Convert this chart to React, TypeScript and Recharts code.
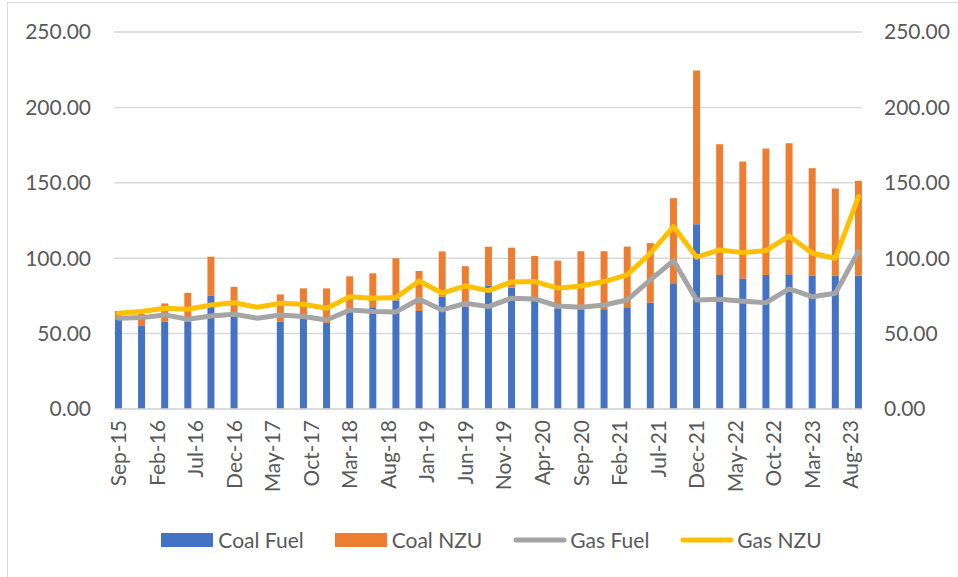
import React from 'react';
import { ComposedChart, Bar, Line, XAxis, YAxis, CartesianGrid, Legend } from 'recharts';

const quarters = [
  'Sep-15', 'Dec-15', 'Mar-16', 'Jun-16', 'Sep-16', 'Dec-16', 'Mar-17', 'Jun-17', 'Sep-17', 'Dec-17', 'Mar-18',
  'Jun-18', 'Sep-18', 'Dec-18', 'Mar-19', 'Jun-19', 'Sep-19', 'Dec-19', 'Mar-20', 'Jun-20', 'Sep-20', 'Dec-20',
  'Mar-21', 'Jun-21', 'Sep-21', 'Dec-21', 'Mar-22', 'Jun-22', 'Sep-22', 'Dec-22', 'Mar-23', 'Jun-23', 'Sep-23',
];
const coalFuel = [
  59, 55, 58, 58, 75, 61, null, 58, 60, 57, 64.5,
  67.5, 72, 65, 74.5, 68, 81.6, 80.5, 72.3, 66.8, 66.2, 66.2,
  67.5, 70.5, 83.4, 122.5, 88.9, 86.5, 88.9, 89.4, 88.5, 88.5, 88.5,
];
const coalNZU = [
  6, 8, 12, 19, 26, 20, null, 18, 20, 23, 23.5,
  22.5, 28, 26.5, 30, 26.7, 26, 26.5, 29.2, 31.6, 38.4, 38.4,
  40.2, 39.5, 56.4, 102, 86.7, 77.6, 83.8, 86.9, 71.2, 57.7, 62.8,
];
const gasFuel = [
  60.2, 60.6, 62.4, 59.5, 61.7, 62.8, 60.2, 62.4, 61.3, 59, 65.7,
  64.6, 64.4, 72.8, 65.7, 70.1, 67.9, 73.5, 73, 68.3, 67.5, 69,
  72.3, 85.6, 98.4, 72.3, 72.8, 71.5, 70.5, 79.6, 74.5, 76.8, 104.4,
];
const gasNZU = [
  63.5, 64.6, 66.8, 66.2, 69, 70.5, 67.5, 70.1, 69.5, 66.8, 74.5,
  73.5, 73.9, 84.9, 76.8, 81.6, 78.5, 84.3, 84.5, 80.1, 81.6, 84.5,
  88.9, 103.3, 121, 100.7, 105.5, 103.7, 105, 114.8, 103.3, 100, 140.9,
];
const tickLabels = [
  'Sep-15', 'Feb-16', 'Jul-16', 'Dec-16', 'May-17', 'Oct-17', 'Mar-18', 'Aug-18', 'Jan-19', 'Jun-19',
  'Nov-19', 'Apr-20', 'Sep-20', 'Feb-21', 'Jul-21', 'Dec-21', 'May-22', 'Oct-22', 'Mar-23', 'Aug-23',
];
const yTicks = [0, 50, 100, 150, 200, 250];

const MONTHS_PER_POINT = 3;
const MONTHS_PER_TICK = 5;

const data = quarters.map((q, i) => ({
  q,
  m: i * MONTHS_PER_POINT,
  coalFuel: coalFuel[i],
  coalNZU: coalNZU[i],
  gasFuel: gasFuel[i],
  gasNZU: gasNZU[i],
}));
const tickPositions = tickLabels.map((_, i) => i * MONTHS_PER_TICK);

const TEXT = '#595959';
const FONT = 21;

const XTick = (props: any) => {
  const { x, y, payload } = props;
  const idx = tickPositions.indexOf(payload.value);
  const label = idx >= 0 ? tickLabels[idx] : '';
  return (
    <g transform={`translate(${x},${y})`}>
      <text transform="rotate(-90)" x={-11} y={0} dy="0.36em" textAnchor="end" fill={TEXT} fontSize={FONT}>
        {label}
      </text>
    </g>
  );
};

const LegendContent = (props: any) => {
  const { payload } = props;
  return (
    <div style={{ height: 34, display: 'flex', alignItems: 'center', justifyContent: 'center', paddingLeft: 25 }}>
      {(payload || []).map((p: any, i: number) => (
        <div key={i} style={{ display: 'flex', alignItems: 'center', marginRight: i < payload.length - 1 ? 31 : 0 }}>
          {p.type === 'line' ? (
            <svg width={54} height={14} style={{ display: 'block' }}>
              <line x1={3} y1={7} x2={51} y2={7} stroke={p.color} strokeWidth={5} strokeLinecap="round" />
            </svg>
          ) : (
            <div style={{ width: 52, height: 14, background: p.color, marginRight: 2 }} />
          )}
          <span style={{ color: TEXT, fontSize: FONT, marginLeft: 3, lineHeight: '34px' }}>{p.value}</span>
        </div>
      ))}
    </div>
  );
};

export default function App() {
  return (
    <div style={{ position: 'relative', width: 958, height: 577, fontFamily: 'Lato, sans-serif', overflow: 'hidden' }}>
      <style>{`html,body{margin:0;padding:0;overflow:hidden;background:#fff}`}</style>
      <div
        style={{
          position: 'absolute',
          left: 7,
          top: 2,
          width: 1000,
          height: 600,
          borderLeft: '1.5px solid #d9d9d9',
          borderTop: '1.5px solid #d9d9d9',
          boxSizing: 'border-box',
        }}
      />
      <ComposedChart
        width={958}
        height={577}
        data={data}
        margin={{ top: 32, right: 0, bottom: 20, left: 0 }}
        style={{ position: 'absolute', left: 0, top: 0 }}
      >
        <CartesianGrid yAxisId="left" vertical={false} stroke="#d9d9d9" strokeWidth={1.5} />
        <XAxis
          dataKey="m"
          type="number"
          domain={[0, 96]}
          ticks={tickPositions}
          interval={0}
          padding={{ left: 4.5, right: 3.5 }}
          height={114}
          axisLine={{ stroke: '#d9d9d9', strokeWidth: 1.5 }}
          tickLine={false}
          tickSize={0}
          tickMargin={0}
          tick={<XTick />}
        />
        <YAxis
          yAxisId="left"
          width={114}
          domain={[0, 250]}
          ticks={yTicks}
          interval={0}
          axisLine={false}
          tickLine={false}
          tickSize={0}
          tickMargin={23}
          tickFormatter={(v: number) => v.toFixed(2)}
          tick={{ fill: TEXT, fontSize: FONT }}
        />
        <YAxis
          yAxisId="right"
          orientation="right"
          width={96}
          domain={[0, 250]}
          ticks={yTicks}
          interval={0}
          axisLine={false}
          tickLine={false}
          tickSize={0}
          tickMargin={22}
          tickFormatter={(v: number) => v.toFixed(2)}
          tick={{ fill: TEXT, fontSize: FONT, textAnchor: 'start' }}
        />
        <Bar yAxisId="left" dataKey="coalFuel" name="Coal Fuel" stackId="coal" fill="#4472C4" barSize={7} legendType="rect" isAnimationActive={false} />
        <Bar yAxisId="left" dataKey="coalNZU" name="Coal NZU" stackId="coal" fill="#ED7D31" barSize={7} legendType="rect" isAnimationActive={false} />
        <Line yAxisId="right" dataKey="gasFuel" name="Gas Fuel" stroke="#A5A5A5" strokeWidth={5} dot={false} type="linear" strokeLinejoin="round" strokeLinecap="round" legendType="line" isAnimationActive={false} />
        <Line yAxisId="right" dataKey="gasNZU" name="Gas NZU" stroke="#FFC000" strokeWidth={5} dot={false} type="linear" strokeLinejoin="round" strokeLinecap="round" legendType="line" isAnimationActive={false} />
        <Legend verticalAlign="bottom" align="center" content={<LegendContent />} />
      </ComposedChart>
    </div>
  );
}
